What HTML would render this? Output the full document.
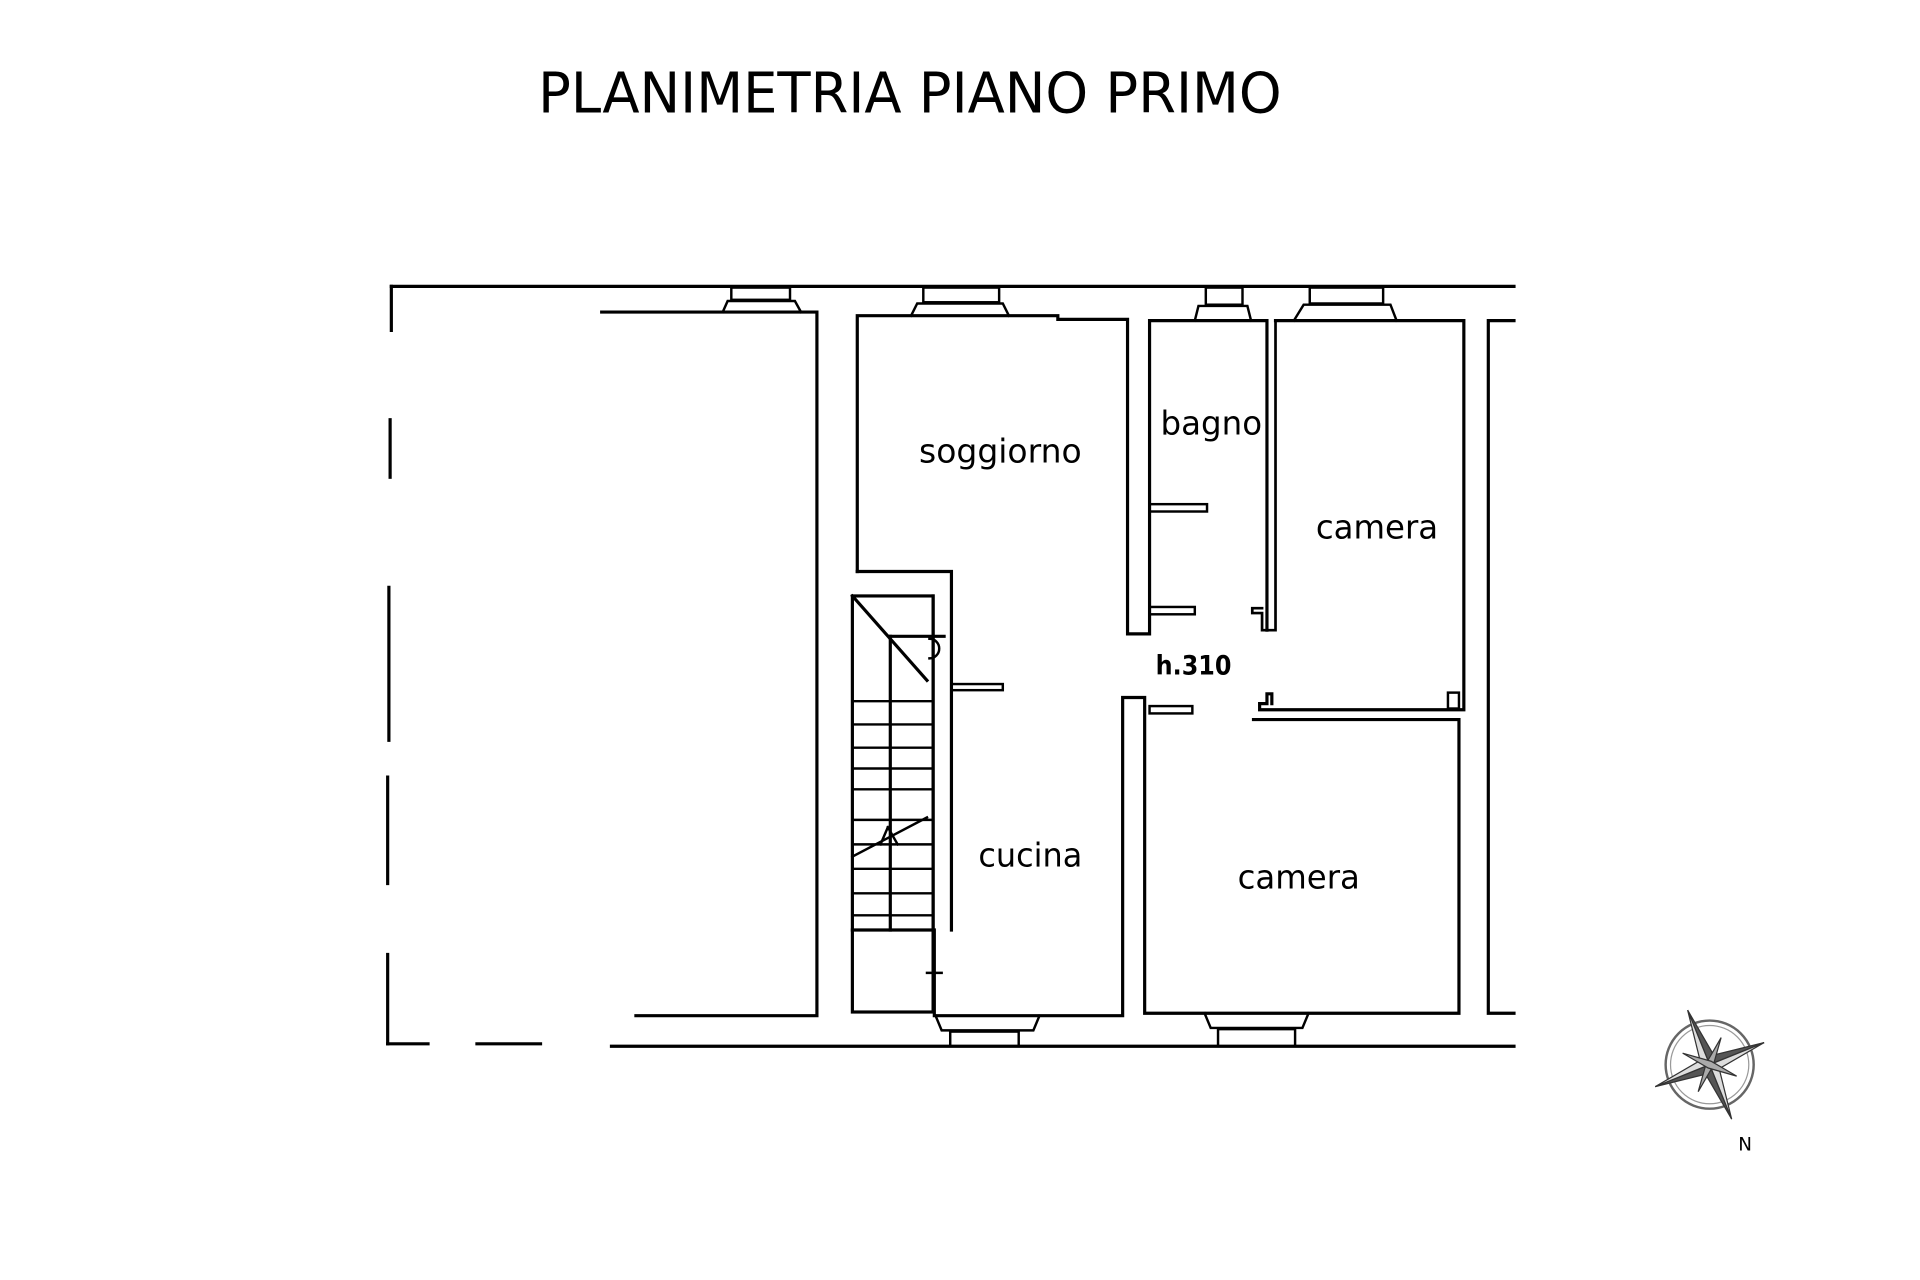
<!DOCTYPE html>
<html><head><meta charset="utf-8"><style>
html,body{margin:0;padding:0;background:#fff;width:1920px;height:1280px;overflow:hidden}
svg{display:block}
text{font-family:"DejaVu Sans","Liberation Sans",sans-serif;fill:#000}
</style></head><body>
<svg width="1920" height="1280" viewBox="0 0 1570 1046" preserveAspectRatio="none">
<text x="440" y="92" font-size="46" textLength="608" lengthAdjust="spacingAndGlyphs">PLANIMETRIA PIANO PRIMO</text>
<g stroke="#000" stroke-width="2.6" fill="none" stroke-linecap="square">
<line x1="320" y1="234" x2="1238" y2="234"/>
<line x1="320" y1="234" x2="320" y2="270"/>
<line x1="319" y1="343" x2="319" y2="390"/>
<line x1="318" y1="480" x2="318" y2="605"/>
<line x1="317" y1="635" x2="317" y2="722"/>
<line x1="317" y1="780" x2="317" y2="853"/>
<line x1="317" y1="853" x2="350" y2="853"/>
<line x1="390" y1="853" x2="442" y2="853"/>
<line x1="500" y1="855" x2="1238" y2="855"/>
<polyline points="492,255 668,255 668,830 520,830"/>
<polyline points="701,467 701,258 865,258 865,261 922,261 922,518 940,518 940,262 1036,262 1036,515"/>
<polyline points="701,467 778,467 778,760"/>
<line x1="763" y1="487" x2="763" y2="760"/>
<rect x="697" y="487" width="66" height="340"/>
<line x1="697" y1="760" x2="763" y2="760"/>
<polyline points="764,760 764,830 918,830 918,570 936,570 936,828 1193,828 1193,588 1025,588"/>
<line x1="697" y1="487" x2="758" y2="556"/>
<line x1="728" y1="520" x2="728" y2="760"/>
<line x1="728" y1="520" x2="772" y2="520"/>
<g stroke-width="2">
<line x1="697" y1="573" x2="763" y2="573"/><line x1="697" y1="592" x2="763" y2="592"/>
<line x1="697" y1="611" x2="763" y2="611"/><line x1="697" y1="628" x2="763" y2="628"/>
<line x1="697" y1="645" x2="763" y2="645"/><line x1="697" y1="670" x2="763" y2="670"/>
<line x1="697" y1="690" x2="763" y2="690"/><line x1="697" y1="710" x2="763" y2="710"/>
<line x1="697" y1="730" x2="763" y2="730"/><line x1="697" y1="748" x2="763" y2="748"/>
<line x1="697" y1="700" x2="758" y2="668"/>
<path d="M726,676 L720,690 M726,676 L734,690"/>
<path d="M760,522 a8,8 0 0 1 0,16"/>
</g>
<rect x="778" y="559" width="42" height="5" stroke-width="2"/>
<path d="M758,795 h12" stroke-width="2"/>
<rect x="940" y="412" width="47" height="6" stroke-width="2"/>
<rect x="940" y="496" width="37" height="6" stroke-width="2"/>
<rect x="940" y="577" width="35" height="6" stroke-width="2"/>
<path d="M1036,515 h-4 v-14 h-8 v-4 h8 M1043,262 v253 h-7" stroke-width="2.2"/>
<polyline points="1043,262 1197,262 1197,580 1030,580 1030,575 1036,575 1036,567 1040,567 1040,575"/>
<rect x="1184" y="566" width="9" height="13" stroke-width="2"/>
<polyline points="1238,262 1217,262 1217,828 1238,828"/>
<g stroke-width="2">
<path d="M591,255 L595,246 L650,246 L655,255"/><rect x="598" y="235" width="48" height="10"/>
<path d="M745,258 L750,248 L820,248 L825,258"/><rect x="755" y="235" width="62" height="12"/>
<path d="M977,262 L980,250 L1020,250 L1023,262"/><rect x="986" y="235" width="30" height="14"/>
<path d="M1058,262 L1066,249 L1137,249 L1142,262"/><rect x="1071" y="235" width="60" height="13"/>
<path d="M765,830 L770,842 L845,842 L850,830"/><rect x="777" y="843" width="56" height="12"/>
<path d="M985,828 L990,840 L1065,840 L1070,828"/><rect x="996" y="841" width="63" height="14"/>
</g>
</g>
<text x="818" y="378" font-size="27" text-anchor="middle" textLength="133" lengthAdjust="spacingAndGlyphs">soggiorno</text>
<text x="949" y="355" font-size="27" textLength="83" lengthAdjust="spacingAndGlyphs">bagno</text>
<text x="1076" y="440" font-size="27" textLength="100" lengthAdjust="spacingAndGlyphs">camera</text>
<text x="800" y="708" font-size="27" textLength="85" lengthAdjust="spacingAndGlyphs">cucina</text>
<text x="1012" y="726" font-size="27" textLength="100" lengthAdjust="spacingAndGlyphs">camera</text>
<text x="945" y="551" font-size="22" font-weight="bold" textLength="62" lengthAdjust="spacingAndGlyphs" fill="#222">h.310</text>
<g transform="translate(1398,870)">
<circle r="36" fill="none" stroke="#666" stroke-width="2"/>
<circle r="32" fill="none" stroke="#999" stroke-width="1"/>
<g transform="rotate(-22)" stroke="#333" stroke-width="1">
<polygon points="0,-48 6,-6 0,0" fill="#555"/><polygon points="0,-48 -6,-6 0,0" fill="#ddd"/>
<polygon points="0,48 -6,6 0,0" fill="#555"/><polygon points="0,48 6,6 0,0" fill="#ddd"/>
<polygon points="-48,0 -6,6 0,0" fill="#555"/><polygon points="-48,0 -6,-6 0,0" fill="#ddd"/>
<polygon points="48,0 6,-6 0,0" fill="#555"/><polygon points="48,0 6,6 0,0" fill="#ddd"/>
<g transform="rotate(45)"><polygon points="0,-24 3,0 0,24 -3,0" fill="#aaa"/><polygon points="-24,0 0,3 24,0 0,-3" fill="#aaa"/></g>
</g>
</g>
<text x="1427" y="940" font-size="15" text-anchor="middle">N</text>
</svg>
</body></html>
